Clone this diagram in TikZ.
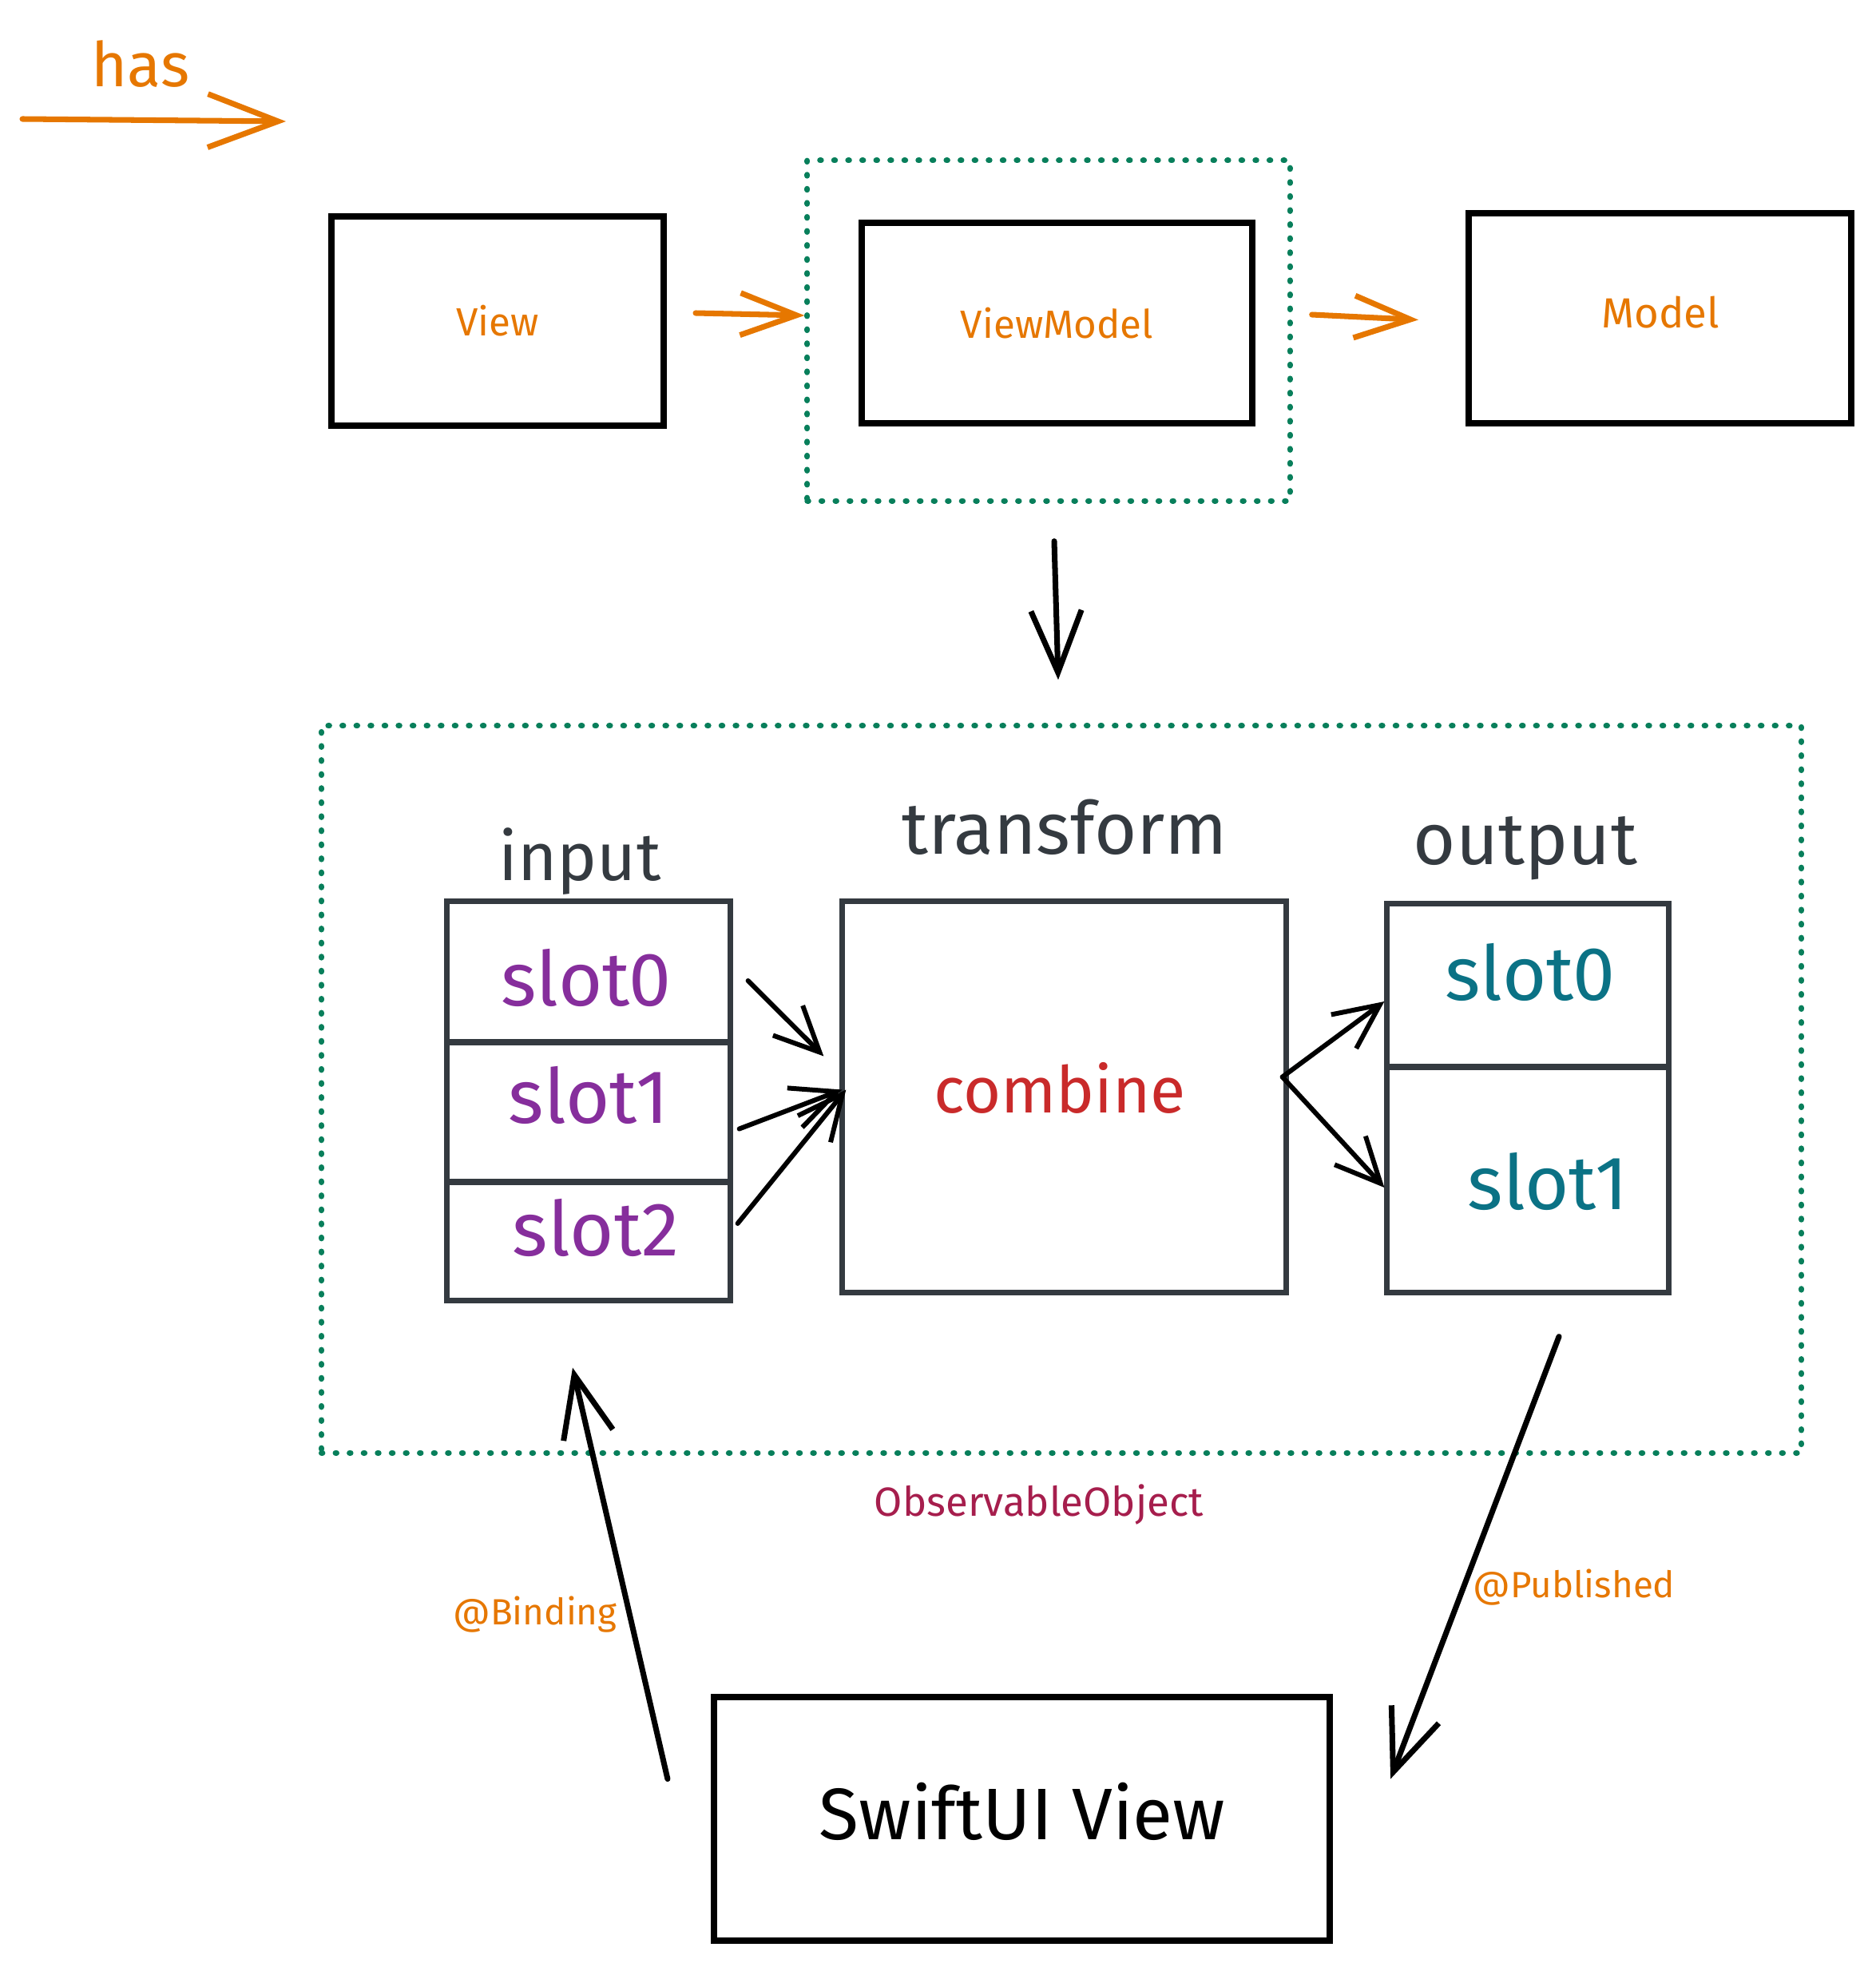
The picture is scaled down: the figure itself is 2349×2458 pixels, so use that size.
\documentclass[tikz,border=0pt]{standalone}
\usepackage{fontspec}
\setmainfont{Fira Sans}
\usetikzlibrary{arrows.meta,calc}
\definecolor{exorange}{HTML}{E67700}
\definecolor{exgreen}{HTML}{087F5B}
\definecolor{expurple}{HTML}{862E9C}
\definecolor{exteal}{HTML}{0B7285}
\definecolor{exred}{HTML}{C92A2A}
\definecolor{exdark}{HTML}{343A40}
\definecolor{exmagenta}{HTML}{A61E4D}
\newcommand{\fsz}[1]{\fontsize{#1}{#1}\selectfont}
\begin{document}
\begin{tikzpicture}[x=0.01cm,y=-0.01cm,
  blackbox/.style={draw=black, line width=2.2pt, inner sep=0pt},
  darkbox/.style={draw=exdark, line width=2pt, inner sep=0pt},
  group/.style={draw=exgreen, line width=2pt, dash pattern=on 0.4pt off 4.6pt, line cap=round, inner sep=0pt},
  plain/.style={inner sep=0pt},
  orangearr/.style={draw=exorange, line width=2pt, line cap=round, -{Straight Barb[length=20pt,width=15pt,line width=2pt]}},
  blackarr/.style={draw=black, line width=2pt, line cap=round, -{Straight Barb[length=22pt,width=18pt,line width=2pt]}},
  smallarr/.style={draw=black, line width=1.7pt, line cap=round, -{Straight Barb[length=16pt,width=15pt,line width=1.7pt]}}
]
\useasboundingbox (0,0) rectangle (2349,2458);

% legend
\node[plain, text=exorange] (has) at (176,80) {\fsz{22pt}has};
\coordinate (hasA) at (28,149);
\coordinate (hasB) at (358,152);
\draw[orangearr, -{Straight Barb[length=25pt,width=19pt,line width=2pt]}] (hasA) -- (hasB);

% top row
\node[group, minimum width=6.04cm, minimum height=4.26cm] (vmgroup) at (1313,414) {};
\node[blackbox, minimum width=4.16cm, minimum height=2.62cm, text=exorange] (view) at (623,402) {\fsz{14pt}View};
\node[blackbox, minimum width=4.89cm, minimum height=2.51cm, text=exorange] (vm) at (1323.5,404.5) {\fsz{14pt}ViewModel};
\node[blackbox, minimum width=4.79cm, minimum height=2.63cm] (model) at (2078.5,398.5) {};
\node[plain, text=exorange] (modeltxt) at (2079,391) {\fsz{15pt}Model};

\draw[orangearr] ($(view.east)+(36,-10)$) -- ($(vmgroup.west)+(0,-19)$);
\draw[orangearr] ($(vmgroup.east)+(24,-20)$) -- ($(model.west)+(-59,2)$);

% big group
\node[group, minimum width=18.52cm, minimum height=9.10cm] (biggroup) at (1329,1364) {};
\draw[blackarr] ($(vmgroup.south)+(7,47)$) -- ($(biggroup.north)+(-4,-54)$);

% input
\node[darkbox, minimum width=3.54cm, minimum height=1.76cm] (in0) at (737,1217) {};
\node[darkbox, minimum width=3.54cm, minimum height=1.75cm] (in1) at (737,1392.5) {};
\node[darkbox, minimum width=3.54cm, minimum height=1.48cm] (in2) at (737,1554) {};
\node[plain, text=expurple] (in0t) at (734,1224) {\fsz{27pt}slot0};
\node[plain, text=expurple] (in1t) at (737,1371) {\fsz{27pt}slot1};
\node[plain, text=expurple] (in2t) at (746,1537) {\fsz{27pt}slot2};
\node[plain, text=exdark] (inputlbl) at (726,1079) {\fsz{24pt}input};

% transform
\node[darkbox, minimum width=5.55cm, minimum height=4.89cm] (trans) at (1332.5,1373.5) {};
\node[plain, text=exred] (combtxt) at (1327,1362) {\fsz{23pt}combine};
\node[plain, text=exdark] (translbl) at (1333,1036) {\fsz{26pt}transform};

% output
\node[darkbox, minimum width=3.52cm, minimum height=2.04cm] (out0) at (1913,1234) {};
\node[darkbox, minimum width=3.52cm, minimum height=2.82cm] (out1) at (1913,1477) {};
\node[plain, text=exteal] (out0t) at (1916,1217) {\fsz{27pt}slot0};
\node[plain, text=exteal] (out1t) at (1938,1479) {\fsz{27pt}slot1};
\node[plain, text=exdark] (outputlbl) at (1910,1062) {\fsz{26pt}output};

% inner arrows
\draw[smallarr] ($(in0.east)+(19,11)$) -- ($(trans.west)+(-20,-51)$);
\draw[smallarr] ($(in1.east)+(8,21)$) -- ($(trans.west)+(3,-9)$);
\draw[smallarr] ($(in2.east)+(6,-22)$) -- ($(trans.west)+(8,-9)$);
\draw[smallarr] ($(trans.east)+(-8,-25)$) -- ($(out0.west)+(0,20)$);
\draw[smallarr] ($(trans.east)+(-8,-25)$) -- ($(out1.west)+(0,10)$);

\node[plain, text=exmagenta] (obs) at (1301,1884) {\fsz{14.5pt}ObservableObject};

% SwiftUI view
\node[blackbox, minimum width=7.71cm, minimum height=3.05cm] (swift) at (1279.5,2277.5) {};
\node[plain] (swifttxt) at (1280,2268) {\fsz{26pt}SwiftUI View};

\draw[blackarr] ($(swift.west)+(-54,-50)$) -- ($(in2.south)+(-20,81)$);
\draw[blackarr] ($(out1.south)+(39,52)$) -- ($(swift.east)+(72,-50)$);

\node[plain, text=exorange] (binding) at (670,2022) {\fsz{13pt}@Binding};
\node[plain, text=exorange] (published) at (1971,1988) {\fsz{13pt}@Published};
\end{tikzpicture}
\end{document}
